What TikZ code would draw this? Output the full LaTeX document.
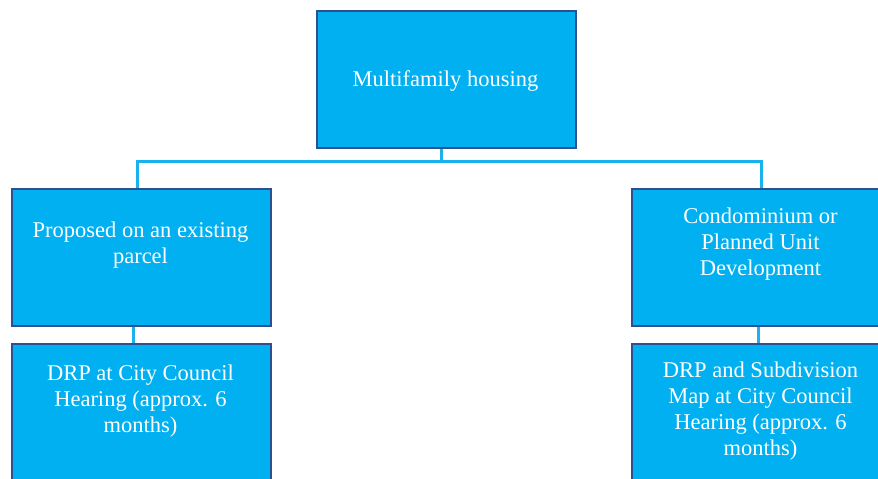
\documentclass[tikz,border=0pt]{standalone}
\usepackage{fontspec}
\setmainfont{Liberation Serif}
\definecolor{boxfill}{HTML}{00B0F0}
\definecolor{boxline}{HTML}{2F4F8F}
\definecolor{linkc}{HTML}{1AB2EC}
\begin{document}
\begin{tikzpicture}[x=1pt,y=-1pt,
  box/.style={draw=boxline, line width=2pt, fill=boxfill, minimum width=259pt, minimum height=137pt, inner sep=0pt, anchor=north west},
  lbl/.style={text=white, font=\fontsize{22.5}{26}\selectfont, align=center, inner sep=0pt},
  link/.style={draw=linkc, line width=3pt}]
\useasboundingbox (0,0) rectangle (878,479);
\clip (0,0) rectangle (878,479);
\fill[white] (0,0) rectangle (878,479);
% connectors (behind boxes)
\coordinate (tb) at (441,146);
\coordinate (bm) at (441,161.5);
\coordinate (bl) at (137,161.5);
\coordinate (br) at (761.5,161.5);
\coordinate (bl2) at (137,188);
\coordinate (br2) at (761.5,188);
\coordinate (l1) at (133.5,324);
\coordinate (l2) at (133.5,343);
\coordinate (r1) at (758.5,324);
\coordinate (r2) at (758.5,343);
\draw[link] (tb) -- (bm);
\draw[link] (bl2) -- (bl) -- (br) -- (br2);
\draw[link] (l1) -- (l2);
\draw[link] (r1) -- (r2);
% boxes
\node[box] (top) at (316,10) {};
\node[box] (left) at (11,188) {};
\node[box] (right) at (631,188) {};
\node[box] (left2) at (11,343) {};
\node[box] (right2) at (631,343) {};
% labels
\node[lbl] (ttop) at (445.5,81.5) {Multifamily housing};
\node[lbl] (tleft) at (140.5,245.5) {Proposed on an existing\\parcel};
\node[lbl] (tright) at (760.5,244.5) {Condominium or\\Planned Unit\\Development};
\node[lbl] (tleft2) at (140.5,401) {DRP at City Council\\Hearing (approx. 6\\months)};
\node[lbl] (tright2) at (760.5,411.5) {DRP and Subdivision\\Map at City Council\\Hearing (approx. 6\\months)};
\end{tikzpicture}
\end{document}
